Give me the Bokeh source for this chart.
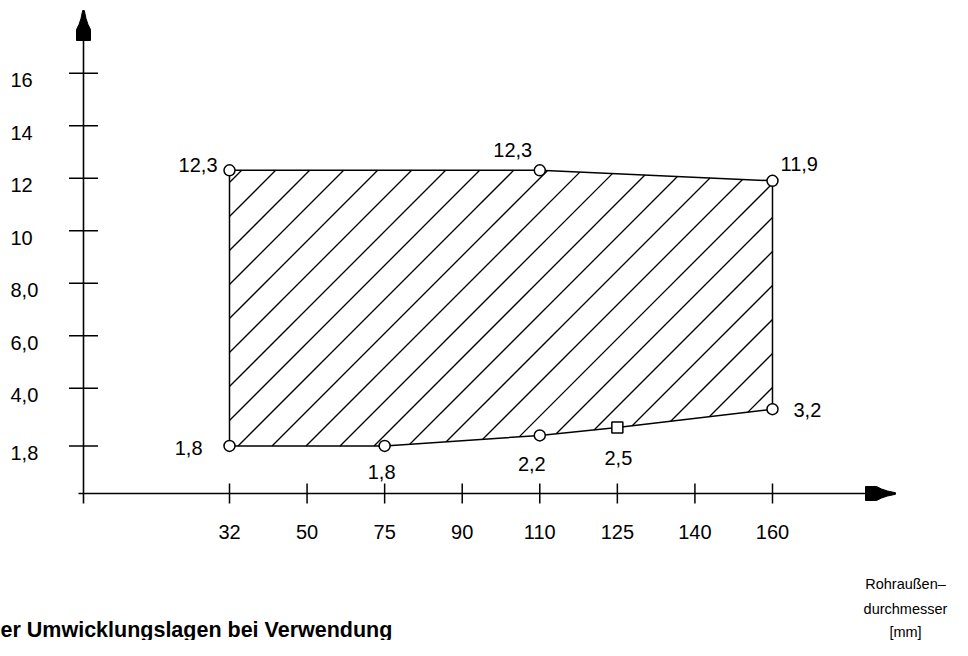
import math
from bokeh.plotting import figure
from bokeh.models import Range1d, Label, ColumnDataSource
from bokeh.core.properties import value
from bokeh.embed import file_html
from bokeh.resources import INLINE

# ---------------- data ----------------
diameters = ["32", "50", "75", "90", "110", "125", "140", "160"]
y_ticks = [1.8, 4.0, 6.0, 8.0, 10, 12, 14, 16]
y_tick_labels = ["1,8", "4,0", "6,0", "8,0", "10", "12", "14", "16"]
# upper boundary (left -> right) and lower boundary (right -> left)
upper_d = ["32", "110", "160"]
upper_v = [12.3, 12.3, 11.9]
lower_d = ["160", "125", "110", "75", "32"]
lower_v = [3.2, 2.5, 2.2, 1.8, 1.8]
x_title_lines = ["Rohraußen–", "durchmesser", "[mm]"]
caption = "er Umwicklungslagen bei Verwendung"

# ---------------- layout (pixels) ----------------
W, H = 952, 640
PX_CAT = 77.57      # pixels between neighbouring diameters
CAT0 = 229.0        # pixel x of first diameter
PX_UNIT = 26.25     # pixels per y unit
ZERO = 492.7        # pixel y (from top) of value 0
FONT = "Liberation Sans"
HATCH_STEP = 34.0   # horizontal spacing of the 45° hatch lines
HATCH_PHASE = -81.7
HEAD = [(0, 0.8), (8, 2.5), (14, 4.5), (19, 7.0), (30, 7.0)]  # arrow head: (dist from tip, half width)

def px2x(px):
    return (px - CAT0) / PX_CAT

def py2y(py):
    return (ZERO - py) / PX_UNIT

idx = {d: i for i, d in enumerate(diameters)}

p = figure(width=W, height=H, output_backend="svg", toolbar_location=None,
           x_range=Range1d(px2x(0), px2x(W)), y_range=Range1d(py2y(H), py2y(0)),
           x_axis_location=None, y_axis_location=None, min_border=0,
           outline_line_color=None, background_fill_color="white")
p.grid.visible = False

# ---------------- hatched region ----------------
poly_x = [idx[d] for d in upper_d + lower_d]
poly_y = upper_v + lower_v

# 45° hatch lines clipped to the (convex) region, computed in pixel space
PX = [CAT0 + i * PX_CAT for i in poly_x]
PY = [v * PX_UNIT for v in poly_y]          # y-up pixels
cs = [a - b for a, b in zip(PX, PY)]
hx, hy = [], []
k = math.ceil((min(cs) - HATCH_PHASE) / HATCH_STEP)
while HATCH_PHASE + k * HATCH_STEP < max(cs):
    c = HATCH_PHASE + k * HATCH_STEP
    pts = []
    n = len(PX)
    for j in range(n):
        x1, y1, x2, y2 = PX[j], PY[j], PX[(j + 1) % n], PY[(j + 1) % n]
        f1, f2 = x1 - y1 - c, x2 - y2 - c
        if (f1 <= 0 < f2) or (f2 <= 0 < f1):
            t = f1 / (f1 - f2)
            pts.append((x1 + t * (x2 - x1), y1 + t * (y2 - y1)))
    if len(pts) >= 2:
        pts.sort()
        a, b = pts[0], pts[-1]
        hx.append([(a[0] - CAT0) / PX_CAT, (b[0] - CAT0) / PX_CAT])
        hy.append([a[1] / PX_UNIT, b[1] / PX_UNIT])
    k += 1
p.multi_line(hx, hy, line_color="black", line_width=1.3)
p.patch(poly_x, poly_y, fill_color=None, line_color="black", line_width=1.5)

# ---------------- axes with arrows ----------------
YAX_PX, XAX_PY = 83.0, 493.0
yax = px2x(YAX_PX)
p.line([yax, yax], [py2y(503), py2y(14)], line_color="black", line_width=1.6)
p.line([px2x(78), px2x(890)], [py2y(XAX_PY)] * 2, line_color="black", line_width=1.6)

tip_y = 10.0   # top arrow tip
side = [(s, w) for s, w in HEAD] + [(s, -w) for s, w in reversed(HEAD)]
p.patch([px2x(YAX_PX + w) for s, w in side], [py2y(tip_y + s) for s, w in side],
        fill_color="black", line_color="black", line_width=1)
tip_x = 895.0  # right arrow tip
p.patch([px2x(tip_x - s) for s, w in side], [py2y(XAX_PY + w) for s, w in side],
        fill_color="black", line_color="black", line_width=1)

# ticks
p.scatter(x=[yax] * len(y_ticks), y=y_ticks, marker="dash", size=29,
          line_color="black", line_width=1.5)
p.scatter(x=list(range(len(diameters))), y=[py2y(XAX_PY)] * len(diameters), marker="dash",
          angle=math.pi / 2, size=20, line_color="black", line_width=1.5)

# tick labels
p.text(x=[px2x(10)] * len(y_ticks), y=y_ticks, text=y_tick_labels, y_offset=7,
       text_align="left", text_baseline="middle", text_font=value(FONT),
       text_font_size="20px", text_color="black")
p.text(x=list(range(len(diameters))), y=[0] * len(diameters), text=diameters,
       y_offset=39, text_align="center", text_baseline="middle",
       text_font=value(FONT), text_font_size="20px", text_color="black")

# ---------------- points + value labels ----------------
pt_x = [idx[d] for d in upper_d + lower_d]
pt_v = upper_v + lower_v
pt_text = [f"{v:.1f}".replace(".", ",") for v in pt_v]
lab_dx = [-12, -27, 8, 21, 1, -8, -3, -27]
lab_dy = [-5, -20, -17, 1, 30, 29, 26, 2]
lab_align = ["right", "center", "left", "left", "center", "center", "center", "right"]
markers = ["circle", "circle", "circle", "circle", "square", "circle", "circle", "circle"]
src = ColumnDataSource(dict(x=pt_x, y=pt_v, t=pt_text, dx=lab_dx, dy=lab_dy,
                            al=lab_align, m=markers))
p.scatter(x="x", y="y", marker="m", size=11, fill_color="white",
          line_color="black", line_width=1.5, source=src)
p.text(x="x", y="y", text="t", x_offset="dx", y_offset="dy", text_align="al",
       text_baseline="middle", text_font=value(FONT), text_font_size="20px",
       text_color="black", source=src)

# ---------------- axis title (bottom right) and caption ----------------
title_center_y = [583, 608, 631]
for line, cy in zip(x_title_lines, title_center_y):
    p.add_layout(Label(x=905, y=H - cy, x_units="screen", y_units="screen",
                       text=line, text_align="center", text_baseline="middle",
                       text_font=FONT, text_font_size="14.5px", text_color="black"))
p.add_layout(Label(x=0, y=H - 629, x_units="screen", y_units="screen", text=caption,
                   text_align="left", text_baseline="middle", text_font=FONT,
                   text_font_size="21.5px", text_font_style="bold", text_color="black"))

open("out.html", "w").write(file_html(p, INLINE))
